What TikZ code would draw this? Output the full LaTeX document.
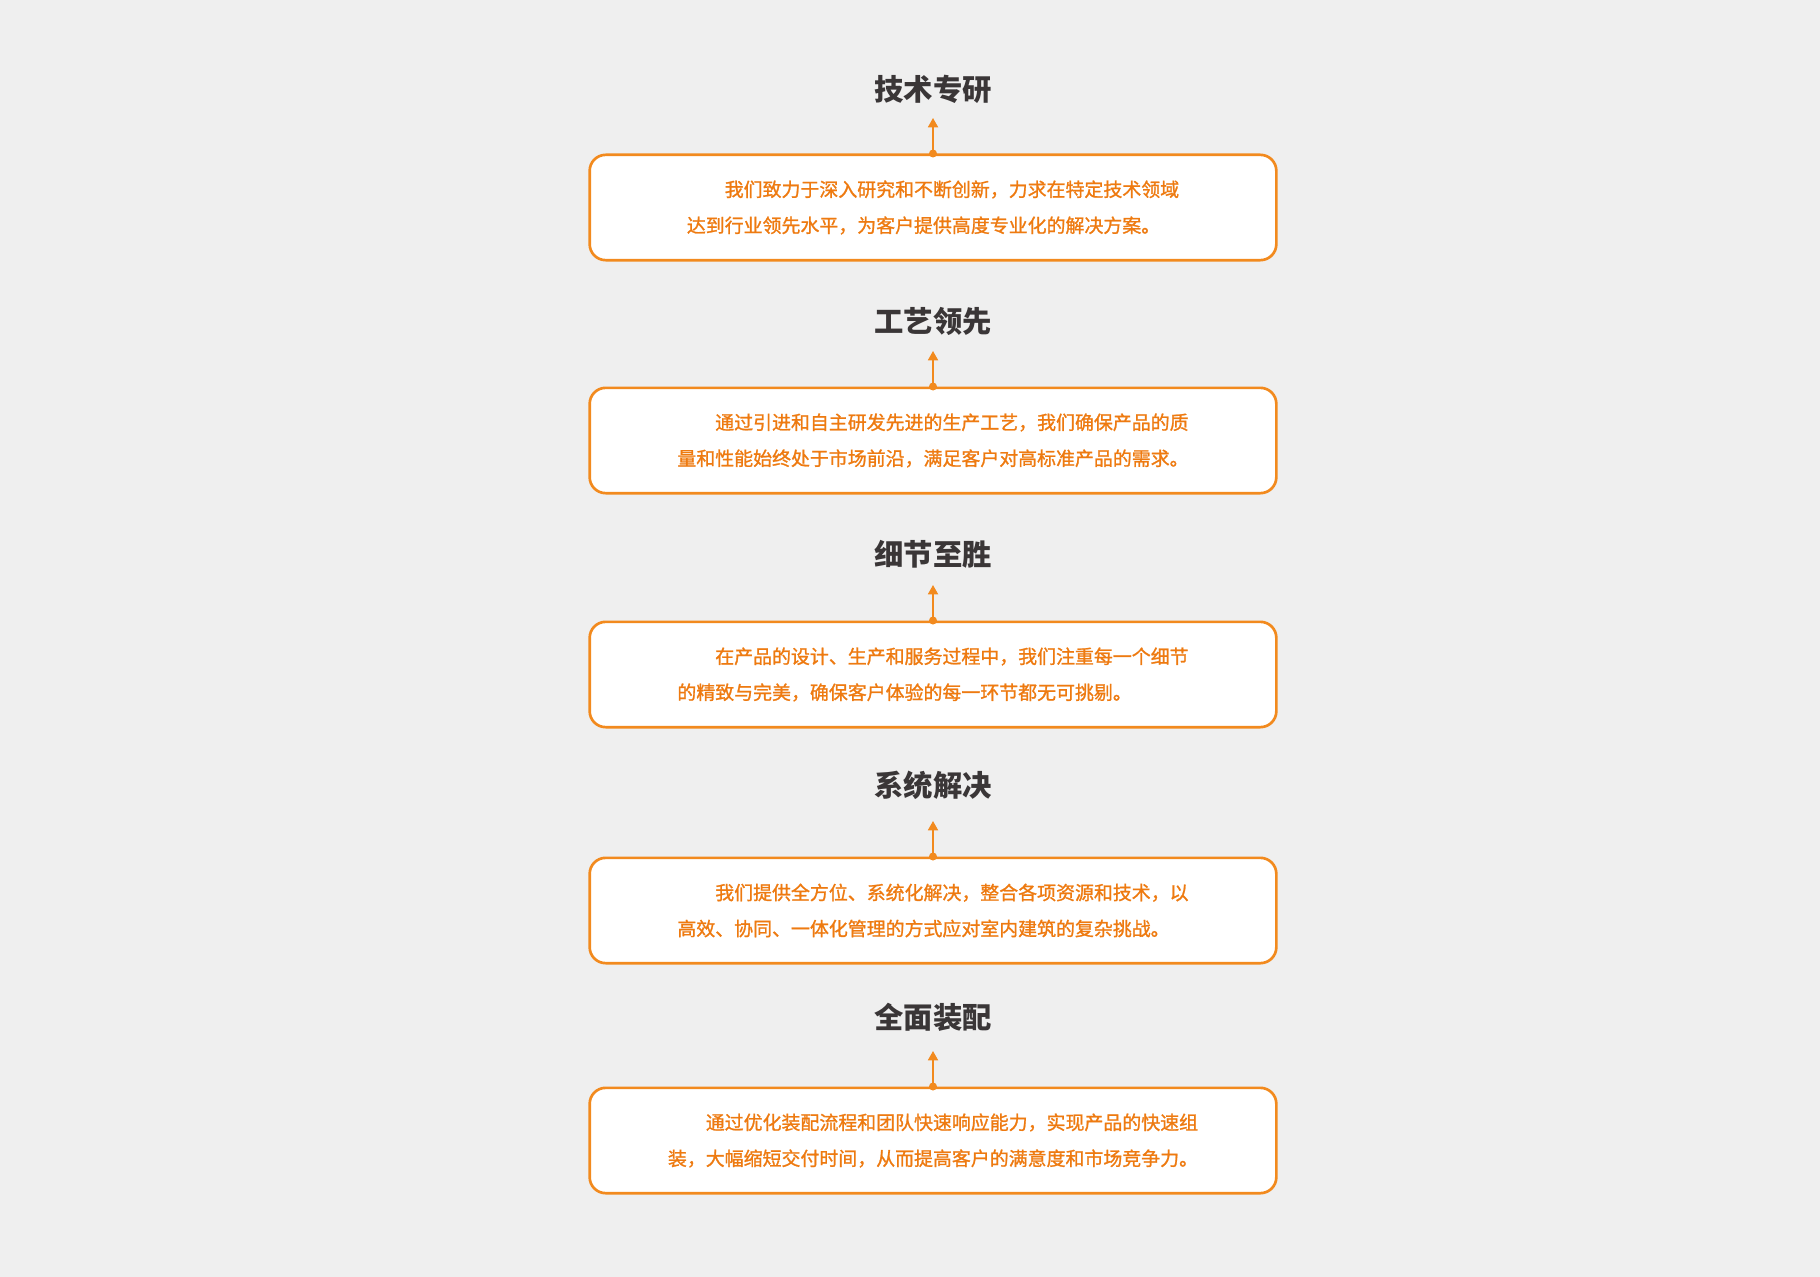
\documentclass[tikz,border=0pt]{standalone}
\usepackage{fontspec}
\usetikzlibrary{arrows.meta}
\newfontfamily\cjk{Noto Sans CJK SC}
\newfontfamily\cjkbody{Noto Sans CJK SC}[FakeBold=1.2]
\definecolor{orng}{HTML}{F28A1E}
\definecolor{txtorng}{HTML}{EE7A10}
\definecolor{ttl}{HTML}{3A3637}
\definecolor{bg}{HTML}{EFEFEF}
\tikzset{
  box/.style={draw=orng, fill=white, line width=2pt, rounded corners=12pt,
    minimum width=515pt, minimum height=79pt, align=left, text=txtorng,
    font=\cjkbody\fontsize{14.2pt}{27pt}\selectfont},
  ttlnode/.style={text=ttl, font=\cjk\bfseries\fontsize{22pt}{26pt}\selectfont},
  dot/.style={circle, fill=orng, inner sep=0pt, minimum size=6pt},
  arr/.style={draw=orng, line width=1.3pt, -{Triangle[length=7pt,width=7.5pt]}}
}
\begin{document}
\begin{tikzpicture}[x=0.75pt,y=-0.75pt]
        \fill[bg] (0,0) rectangle (1820,1277);
        \useasboundingbox (0,0) rectangle (1820,1277);
        \node[ttlnode] (ta) at (933,89)   {技术专研};
        \node[ttlnode] (tb) at (933,321)  {工艺领先};
        \node[ttlnode] (tc) at (933,554)  {细节至胜};
        \node[ttlnode] (td) at (933,785)  {系统解决};
        \node[ttlnode] (te) at (933,1017) {全面装配};
        \node[box] (ba) at (933,207.5)  {\hspace{2em}我们致力于深入研究和不断创新，力求在特定技术领域\\达到行业领先水平，为客户提供高度专业化的解决方案。};
        \node[box] (bb) at (933,440.5)  {\hspace{2em}通过引进和自主研发先进的生产工艺，我们确保产品的质\\量和性能始终处于市场前沿，满足客户对高标准产品的需求。};
        \node[box] (bc) at (933,674.5)  {\hspace{2em}在产品的设计、生产和服务过程中，我们注重每一个细节\\的精致与完美，确保客户体验的每一环节都无可挑剔。};
        \node[box] (bd) at (933,910.5)  {\hspace{2em}我们提供全方位、系统化解决，整合各项资源和技术，以\\高效、协同、一体化管理的方式应对室内建筑的复杂挑战。};
        \node[box] (be) at (933,1140.5) {\hspace{2em}通过优化装配流程和团队快速响应能力，实现产品的快速组\\装，大幅缩短交付时间，从而提高客户的满意度和市场竞争力。};
        \coordinate (pa) at (933,118);
        \coordinate (pb) at (933,351);
        \coordinate (pc) at (933,585);
        \coordinate (pd) at (933,821);
        \coordinate (pe) at (933,1051);
        \node[dot] (da) at (ba.north) {};
        \node[dot] (db) at (bb.north) {};
        \node[dot] (dc) at (bc.north) {};
        \node[dot] (dd) at (bd.north) {};
        \node[dot] (de) at (be.north) {};
        \draw[arr] (da.center) -- (pa);
        \draw[arr] (db.center) -- (pb);
        \draw[arr] (dc.center) -- (pc);
        \draw[arr] (dd.center) -- (pd);
        \draw[arr] (de.center) -- (pe);
    \end{tikzpicture}
\end{document}
